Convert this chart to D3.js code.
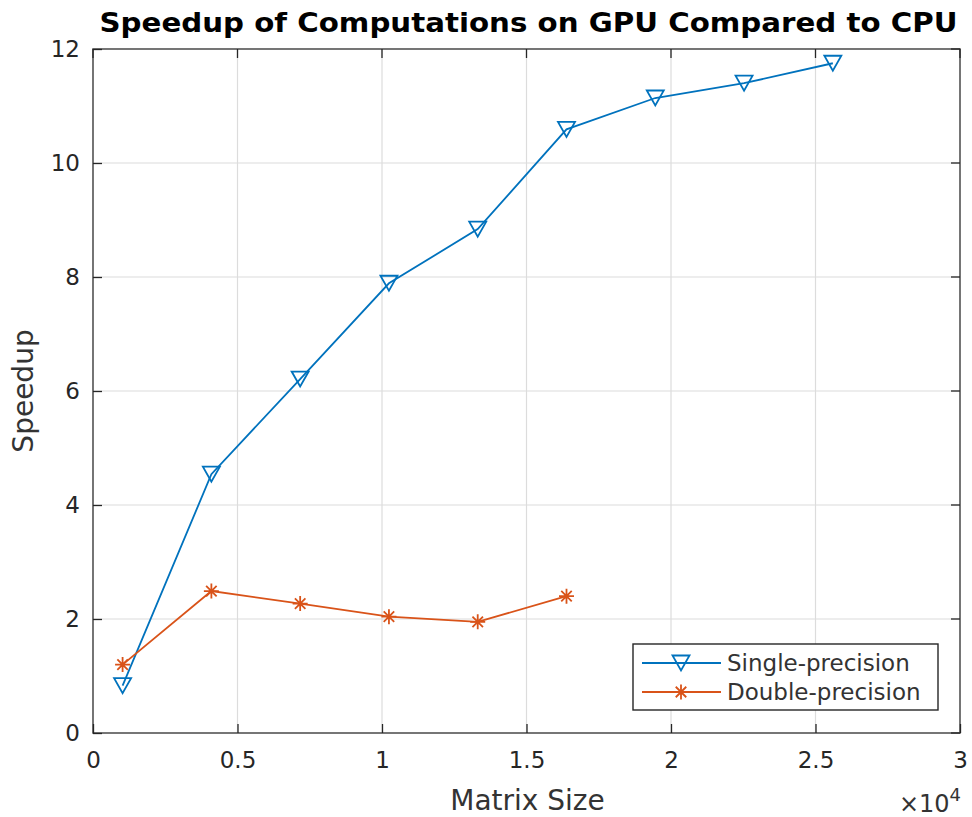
<!DOCTYPE html>
<html>
<head>
<meta charset="utf-8">
<script src="https://cdn.jsdelivr.net/npm/d3@7"></script>
<style>
  body { margin: 0; background: #fff; }
  svg { display: block; }
  text { font-family: "DejaVu Sans", sans-serif; fill: #262626; }
</style>
</head>
<body>
<svg id="chart" width="972" height="817"></svg>
<script>
const matrixSizes = [1024, 4096, 7168, 10240, 13312, 16384, 19456, 22528, 25600];
const singleSpeedup = [0.83, 4.54, 6.21, 7.89, 8.84, 10.59, 11.14, 11.40, 11.75];
const doubleSizes = [1024, 4096, 7168, 10240, 13312, 16384];
const doubleSpeedup = [1.20, 2.49, 2.27, 2.04, 1.95, 2.40];
const xTicks = [0, 5000, 10000, 15000, 20000, 25000, 30000];
const xTickLabels = ["0", "0.5", "1", "1.5", "2", "2.5", "3"];
const yTicks = [0, 2, 4, 6, 8, 10, 12];
const seriesNames = ["Single-precision", "Double-precision"];
const titleText = "Speedup of Computations on GPU Compared to CPU";

const svg = d3.select("#chart");
const m = { left: 93, right: 960, top: 49, bottom: 733 };
const x = d3.scaleLinear().domain([0, 30000]).range([m.left, m.right]);
const y = d3.scaleLinear().domain([0, 12]).range([m.bottom, m.top]);
const blue = "#0072BD", orange = "#D95319";
const axisColor = "#262626";

// grid
const grid = svg.append("g");
xTicks.forEach(t => grid.append("line").attr("x1", x(t)).attr("x2", x(t)).attr("y1", m.top).attr("y2", m.bottom)
  .attr("stroke", "#dcdcdc").attr("stroke-width", 1.2));
yTicks.forEach(t => grid.append("line").attr("y1", y(t)).attr("y2", y(t)).attr("x1", m.left).attr("x2", m.right)
  .attr("stroke", "#dcdcdc").attr("stroke-width", 1.2));

// axes (ticks inward)
const xAxis = d3.axisBottom(x).tickValues(xTicks).tickFormat((d, i) => xTickLabels[i]).tickSizeInner(-9).tickSizeOuter(0).tickPadding(19);
const gx = svg.append("g").attr("transform", `translate(0,${m.bottom})`).call(xAxis);
const yAxis = d3.axisLeft(y).tickValues(yTicks).tickFormat(d3.format("d")).tickSizeInner(-9).tickSizeOuter(0).tickPadding(13);
const gy = svg.append("g").attr("transform", `translate(${m.left},0)`).call(yAxis);
[gx, gy].forEach(g => {
  g.selectAll(".domain").remove();
  g.selectAll(".tick line").attr("stroke", axisColor).attr("stroke-width", 1.3);
  g.selectAll(".tick text").attr("font-size", 23).attr("fill", "#333").style("font-family", "DejaVu Sans");
});
// top/right ticks
yTicks.forEach(t => svg.append("line").attr("x1", m.right).attr("x2", m.right - 9).attr("y1", y(t)).attr("y2", y(t)).attr("stroke", axisColor).attr("stroke-width", 1.3));
xTicks.forEach(t => svg.append("line").attr("x1", x(t)).attr("x2", x(t)).attr("y1", m.top).attr("y2", m.top + 9).attr("stroke", axisColor).attr("stroke-width", 1.3));

// box
svg.append("rect").attr("x", m.left).attr("y", m.top).attr("width", m.right - m.left).attr("height", m.bottom - m.top)
  .attr("fill", "none").attr("stroke", axisColor).attr("stroke-width", 1.6).attr("opacity", 0.75);

// lines
const line = d3.line().x(d => x(d[0])).y(d => y(d[1]));
const singleData = matrixSizes.map((s, i) => [s, singleSpeedup[i]]);
const doubleData = doubleSizes.map((s, i) => [s, doubleSpeedup[i]]);

svg.append("path").datum(singleData).attr("d", line).attr("fill", "none").attr("stroke", blue).attr("stroke-width", 1.8);
svg.append("path").datum(doubleData).attr("d", line).attr("fill", "none").attr("stroke", orange).attr("stroke-width", 1.8);

function triDown(g, cx, cy) {
  const w = 8.5, h = 7.5;
  g.append("path").attr("d", `M${cx - w},${cy - h}L${cx + w},${cy - h}L${cx},${cy + h}Z`)
    .attr("fill", "none").attr("stroke", blue).attr("stroke-width", 1.8).attr("stroke-linejoin", "miter");
}
function asterisk(g, cx, cy) {
  const r = 7.5;
  const p = [];
  p.push(`M${cx},${cy - r}L${cx},${cy + r}`);
  p.push(`M${cx - r},${cy}L${cx + r},${cy}`);
  const d = r * 0.7;
  p.push(`M${cx - d},${cy - d}L${cx + d},${cy + d}`);
  p.push(`M${cx - d},${cy + d}L${cx + d},${cy - d}`);
  g.append("path").attr("d", p.join("")).attr("stroke", orange).attr("stroke-width", 1.8).attr("fill", "none");
}
const mk = svg.append("g");
singleData.forEach(d => triDown(mk, x(d[0]), y(d[1])));
doubleData.forEach(d => asterisk(mk, x(d[0]), y(d[1])));

// title
svg.append("text").attr("x", (m.left + m.right) / 2 + 2).attr("y", 32).attr("text-anchor", "middle")
  .attr("font-size", 27).attr("font-weight", "bold").style("fill", "#000")
  .attr("textLength", 858).attr("lengthAdjust", "spacingAndGlyphs").text(titleText);

// axis labels
svg.append("text").attr("x", (m.left + m.right) / 2 + 1).attr("y", 810).attr("text-anchor", "middle")
  .attr("font-size", 28).style("fill", "#333").text("Matrix Size");
svg.append("text").attr("transform", `translate(33,${(m.top + m.bottom) / 2}) rotate(-90)`).attr("text-anchor", "middle")
  .attr("font-size", 28).style("fill", "#333").text("Speedup");

// exponent
const ex = svg.append("text").attr("x", 961).attr("y", 812).attr("text-anchor", "end").attr("font-size", 24).style("fill", "#333");
ex.append("tspan").text("×10");
ex.append("tspan").attr("dy", -11).attr("font-size", 18).text("4");

// legend
const lg = svg.append("g");
lg.append("rect").attr("x", 633).attr("y", 644).attr("width", 305).attr("height", 66)
  .attr("fill", "#fff").attr("stroke", axisColor).attr("stroke-width", 1.4);
const rows = [663, 692];
[blue, orange].forEach((c, i) => {
  lg.append("line").attr("x1", 642).attr("x2", 721).attr("y1", rows[i]).attr("y2", rows[i]).attr("stroke", c).attr("stroke-width", 1.8);
  if (i === 0) triDown(lg, 681, rows[i]); else asterisk(lg, 681, rows[i]);
  lg.append("text").attr("x", 727).attr("y", rows[i] + 8).attr("font-size", 23).style("fill", "#333").text(seriesNames[i]);
});
</script>
</body>
</html>
